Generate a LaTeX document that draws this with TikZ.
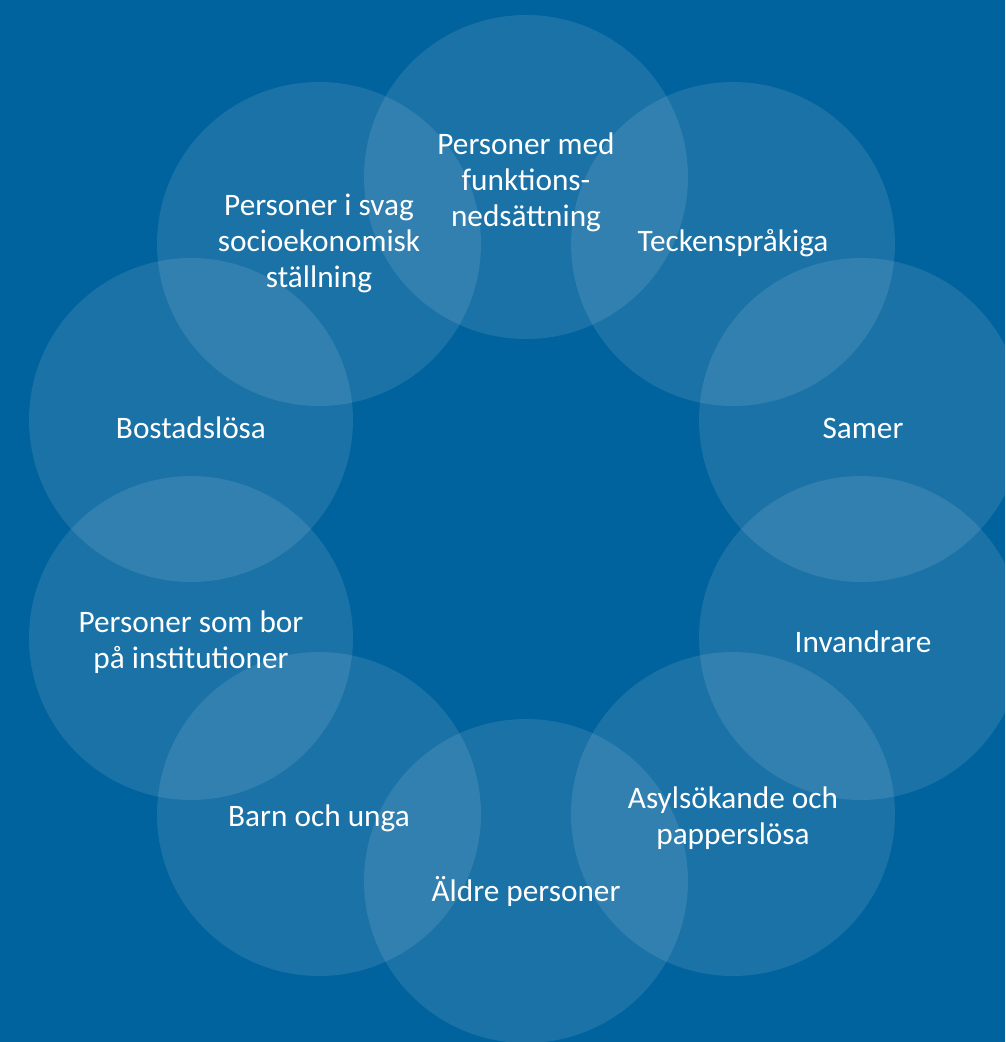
\documentclass[tikz,border=0pt]{standalone}
\usepackage{fontspec}
\setmainfont{Carlito}
\definecolor{bgblue}{HTML}{00639E}
\tikzset{ring/.style={circle, fill=white, fill opacity=.1, minimum size=6.48cm, inner sep=0pt},
  lbl/.style={text=white, align=center, font=\fontsize{17.8}{20.5}\selectfont}}

\begin{document}
\begin{tikzpicture}[x=0.02cm,y=-0.02cm]
    \useasboundingbox (0,0) rectangle (1005,1042);
    \clip (0,0) rectangle (1005,1042);
    \fill[bgblue] (0,0) rectangle (1005,1042);
    % the ring of circles
    \node[ring] (funk) at (526,177) {};
    \node[ring] (teck) at (733,244) {};
    \node[ring] (samer) at (861,420) {};
    \node[ring] (invan) at (861,638) {};
    \node[ring] (asyl) at (733,814) {};
    \node[ring] (aldre) at (526,881) {};
    \node[ring] (barn) at (319,814) {};
    \node[ring] (inst) at (191,638) {};
    \node[ring] (bost) at (191,420) {};
    \node[ring] (svag) at (319,244) {};
    % labels
    \node[lbl] (funkT) at (526,182) {Personer med\\funktions-\\nedsättning};
    \node[lbl] (teckT) at (733,243) {Teckenspråkiga};
    \node[lbl] (samerT) at (863,428) {Samer};
    \node[lbl] (invanT) at (863,642) {Invandrare};
    \node[lbl] (asylT) at (733,818) {Asylsökande och\\papperslösa};
    \node[lbl] (aldreT) at (526,891) {Äldre personer};
    \node[lbl] (barnT) at (319,818) {Barn och unga};
    \node[lbl] (instT) at (191,642) {Personer som bor\\på institutioner};
    \node[lbl] (bostT) at (191,428) {Bostadslösa};
    \node[lbl] (svagT) at (319,243) {Personer i svag\\socioekonomisk\\ställning};
\end{tikzpicture}
\end{document}
